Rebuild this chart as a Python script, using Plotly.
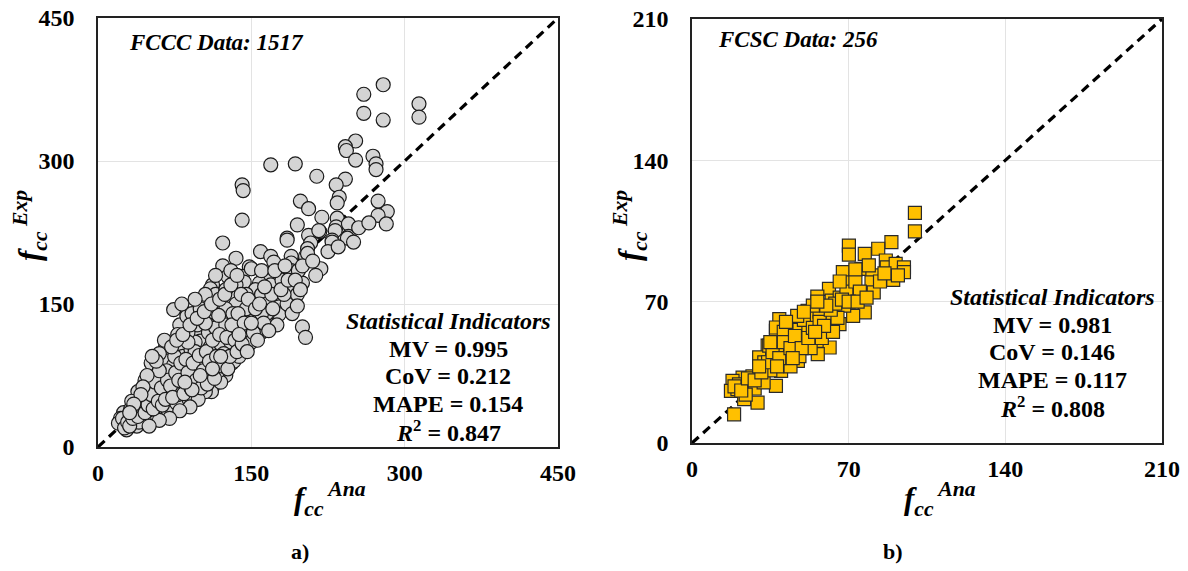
import plotly.graph_objects as go

# ---------------- data ----------------
fccc_points = [
    (279,380),(260,370),(260,350),(279,343),(314,360),(314,346),
    (252,321),(242,315),(243,311),(252,301),(269,305),(272,297),(272,291),
    (169,296),(193,297),(214,284),(141,275),(142,269),(141,238),
    (242,281),(233,275),(236,262),(234,256),(198,258),(206,250),(219,241),(195,233),
    (274,258),(283,247),(274,243),(282,234),(234,240),(233,231),(245,234),(217,226),(185,219),(206,222),(245,221),
    (216,227),(232,227),(244,219),(229,217),(185,217),(229,215),
    (208,214),(122,214),(159,205),(169,200),(135,198),(122,190),(148,189),(189,200),(189,193),(189,185),
    (205,208),(203,200),(218,187),(213,180),(200,172),(188,168),(169,177),(158,172),(141,179),(127,179),
    (112,170),(200,126),(203,115),(177,152),(177,140),(161,121),(149,125),(74,144),(131,88),(112,63),
    (205,203),(189,180),(172,194),(150,187),(143,173),(169,170),(154,165),(177,158),(177,147),(177,139),
    (189,165),(189,154),(166,140),(110,166),(118,147),(140,147),(131,158),(101,151),(151,135),(140,135),
    (128,133),(112,133),(99,126),(87,139),(159,121),(122,119),(133,105),(105,107),(86,105),(102,92),(87,84),
    (115,160),(125,165),(135,170),(145,160),(160,160),(165,150),(150,150),(135,150),(125,145),(110,140),
    (145,140),(155,128),(165,130),(175,128),(185,150),(195,160),(180,175),(160,185),(145,115),(138,112),
    (125,105),(115,98),(128,125),(108,128),(95,120),(118,122),(92,130),(100,138),(80,128),(97,128),
    (110,125),(123,133),(139,133),(151,138),(165,140),(160,121),(149,123),(133,119),(120,116),(100,111),
    (85,112),(74,109),(66,105),(103,97),(94,91),(81,102),(71,98),(61,88),(56,84),(72,81),(85,84),(98,86),
    (113,91),(128,102),(133,90),(124,81),(115,77),(105,74),(97,63),(111,58),(90,53),(76,50),(64,56),
    (53,74),(51,67),(45,60),(41,50),(35,39),(30,32),(25,36),(23,25),(28,18),(38,22),(45,30),(50,39),
    (60,39),(64,42),(69,36),(77,46),(89,50),(87,137),
    (38,45),(42,38),(48,55),(55,60),(60,70),(65,60),(70,75),(75,68),(80,80),(85,75),(90,95),(95,80),
    (100,85),(105,95),(110,105),(115,100),(120,108),(125,95),(130,110),(95,110),(88,120),(78,118),
    (68,90),(58,78),(50,48),(44,52),(33,28),(27,22),(22,30),(36,34),(40,26),(55,45),(62,52),(70,58),
    (82,62),(92,72),(102,70),(118,90),(108,120),(115,125),(125,128),(138,128),(145,145),(132,140),
    (118,138),(105,130),(92,140),(100,145),(82,150),(125,75),(120,68),(105,58),(98,50),(90,42),(80,38),
    (70,30),(60,28),(50,22),(20,25),(32,40),(47,45),(57,52),(66,66),(74,86),(83,95),(91,102),(67,80),
    (60,98),(52,88),(46,70),(39,58),(33,48),(78,55),(86,65),(96,78),(108,83),(118,80),(142,122),
    (150,110),(138,95),(95,100),(88,110),(75,95),(65,112),(140,160),(130,185),(115,180),(105,160),
    (95,155),(160,140),(170,160),(182,160),(196,185),(200,190),(210,195),(225,205),(235,210),(250,215),
    (255,230),(265,235),(190,140),(195,148),
    (24,30),(26,20),(29,26),(31,22),(34,30),(37,38),(39,32),(43,42),(46,36),(49,44),(52,55),(54,40),
    (56,68),(59,48),(62,62),(63,44),(66,50),(68,70),(71,64),(73,52),(76,78),(79,70),(81,88),(84,56),
    (86,92),(88,78),(91,62),(93,88),(96,70),(99,96),(101,62),(103,80),(106,100),(107,66),(109,90),
    (112,112),(114,72),(116,95),(119,118),(121,85),(123,98),(126,115),(127,82),(129,95),(131,128),
    (134,112),(136,100),(137,140),(141,108),(143,130),(146,100),(147,155),(152,120),(154,145),(156,112),
    (158,150),(162,130),(163,168),(167,122),(171,145),(173,185),(179,165),(183,190),(186,175),(193,175),
    (198,165),(60,80),(57,90),(53,95),(48,75),(44,63),(42,55),(35,45),(31,36),(72,105),(77,112),(83,118),
    (90,128),(97,135),(104,142),(111,150),(119,155),(124,160),(130,170),(136,180),(92,60),(100,75),
    (85,68),(112,82),(120,95),(138,118),(150,130),
]
fccc_ana = [p[0] for p in fccc_points]
fccc_exp = [p[1] for p in fccc_points]

fcsc_points = [
    (99.6,114),(99.6,104.8),(89.1,99.5),(83.2,96.2),(70.1,97.8),(70.1,93.3),(77.2,93.7),(86.6,90.4),
    (87,87),(91,88.7),(94.7,87),(94.7,84.6),(89.9,80.8),(75.7,86.2),(80.6,83),(80.2,79.6),(81.2,74.6),
    (67.4,84.6),(71.2,79.6),(71.2,73.8),(61.2,76.3),(56,72.5),(62.4,70.5),(77.2,64.7),(72,63),
    (51.7,65.5),(61.2,63),(39,61.4),(45.8,59.7),(65.9,58.9),(50.2,54),(37.5,55.6),(56.9,50.6),
    (61.5,47.3),(46.5,48.2),(40.5,49),(33.8,48.2),(56.2,44),(47.3,40.7),(36,41.5),(39.8,35.7),
    (33,37.4),(30,33.3),(37.5,28.3),(25.6,28.3),(22.6,32.4),(18.1,30.8),(17.4,25.8),(20.3,26.7),
    (23.3,21.7),(29.3,20),(18.8,14.2),(30,42.4),(51.7,65.2),(37.5,57.2),(42.8,54),(40.5,47.3),
    (34.5,48.2),(32.3,39.9),
    (43,52),(48,56),(52,58),(55,62),(58,55),(60,60),(63,67),(66,72),(68,68),(45,45),(50,50),(53,47),
    (57,65),(42,44),(38,45),(36,50),(26,30),(28,27),(32,30),(35,36),(24,24),(21,29),(27,33),(44,38),
    (48,43),(58,52),(63,55),(65,62),(69,75),(73,80),(75,75),(54,68),(50,61),(47,63),(41,55),
    (19,28),(22,26),(25,32),(28,31),(31,35),(34,40),(36,45),(39,42),(41,50),(44,47),(46,53),(49,47),
    (52,52),(54,57),(57,60),(59,58),(62,66),(64,69),(67,71),(70,70),(74,70),(78,72),(84,80),(86,84),
    (92,83),(79,88),(73,86),(66,80),(60,68),(55,55),(45,42),(38,38),(42,60),(50,65),(56,70),(35,50),
    (30,38),
]
fcsc_ana = [p[0] for p in fcsc_points]
fcsc_exp = [p[1] for p in fcsc_points]

ticks_a = [0, 150, 300, 450]
ticks_b = [0, 70, 140, 210]
stats_a = ["MV = 0.995", "CoV = 0.212", "MAPE = 0.154"]
r2_a = "0.847"
stats_b = ["MV = 0.981", "CoV = 0.146", "MAPE = 0.117"]
r2_b = "0.808"
title_a = "FCCC Data: 1517"
title_b = "FCSC Data: 256"

# ---------------- figure ----------------
FONT = "Liberation Serif, Times New Roman, serif"
OFF = 8                      # page body margin of the html page
W, H = 1188 - OFF, 571 - OFF


def px(x):
    return (x - OFF) / W


def py(y):
    return 1 - (y - OFF) / H


fig = go.Figure()

fig.add_trace(go.Scatter(x=[0, 450], y=[0, 450], mode="lines",
                         line=dict(color="black", width=3.2, dash="9px,6px"),
                         xaxis="x", yaxis="y", showlegend=False, hoverinfo="skip"))
fig.add_trace(go.Scatter(x=fccc_ana, y=fccc_exp, mode="markers",
                         marker=dict(symbol="circle", size=14, color="#d4d4d4",
                                     line=dict(color="#1a1a1a", width=1.2)),
                         xaxis="x", yaxis="y", showlegend=False))

fig.add_trace(go.Scatter(x=[0, 210], y=[0, 210], mode="lines",
                         line=dict(color="black", width=3.2, dash="9px,6px"),
                         xaxis="x2", yaxis="y2", showlegend=False, hoverinfo="skip"))
fig.add_trace(go.Scatter(x=fcsc_ana, y=fcsc_exp, mode="markers",
                         marker=dict(symbol="square", size=13, color="#FFC000",
                                     line=dict(color="#2a2a2a", width=1.2)),
                         xaxis="x2", yaxis="y2", showlegend=False))

axis_common = dict(showgrid=True, gridcolor="#e3e3e3", gridwidth=1,
                   showline=True, linecolor="#222", linewidth=1.6, mirror=True,
                   zeroline=False, ticks="", automargin=False, ticklabeloverflow="allow",
                   tickfont=dict(family=FONT, size=24, color="black", weight="bold"))
xa = dict(axis_common, ticklabelstandoff=3)
ya = dict(axis_common, ticklabelstandoff=17)

fig.update_layout(
    width=W, height=H, margin=dict(l=0, r=0, t=0, b=0, pad=0, autoexpand=False),
    plot_bgcolor="white", paper_bgcolor="white",
    xaxis=dict(domain=[px(98), px(558)], range=[0, 450], tickvals=ticks_a, anchor="y", **xa),
    yaxis=dict(domain=[py(447), py(18)], range=[0, 450], tickvals=ticks_a, anchor="x", **ya),
    xaxis2=dict(domain=[px(692), px(1162)], range=[0, 210], tickvals=ticks_b, anchor="y2", **xa),
    yaxis2=dict(domain=[py(443), py(19)], range=[0, 210], tickvals=ticks_b, anchor="x2", **ya),
)


def ann(text, x, y, size, angle=0, xanchor="center"):
    fig.add_annotation(text=text, x=px(x), y=py(y), xref="paper", yref="paper",
                       showarrow=False, textangle=angle, xanchor=xanchor, yanchor="middle",
                       font=dict(family=FONT, size=size, color="black"))


def ftitle(sup):
    return ("<b><i>f</i></b><sub><b><i>cc</i></b></sub>"
            "<sup><b><i> " + sup + "</i></b></sup>")


# axis titles
ann(ftitle("Ana"), 330, 499, 31)
ann(ftitle("Ana"), 940, 499, 31)
ann(ftitle("Exp"), 30, 226, 31, angle=-90)
ann(ftitle("Exp"), 630, 226, 31, angle=-90)

# panel labels
ann("<b>a)</b>", 300, 551, 22)
ann("<b>b)</b>", 893, 551, 22)

# data count labels
ann("<b><i>" + title_a + "</i></b>", 127, 43, 23, xanchor="left")
ann("<b><i>" + title_b + "</i></b>", 716, 40, 23, xanchor="left")


# statistical indicators
def stats(cx, y0, lines, r2):
    ann("<b><i>Statistical Indicators</i></b>", cx, y0, 24)
    for i, t in enumerate(lines):
        ann("<b>" + t + "</b>", cx, y0 + 27.5 * (i + 1), 24)
    ann("<b><i>R</i><sup>2</sup> = " + r2 + "</b>", cx, y0 + 27.5 * 4, 24)


stats(448, 321, stats_a, r2_a)
stats(1052, 297, stats_b, r2_b)

fig.write_html("out.html")
